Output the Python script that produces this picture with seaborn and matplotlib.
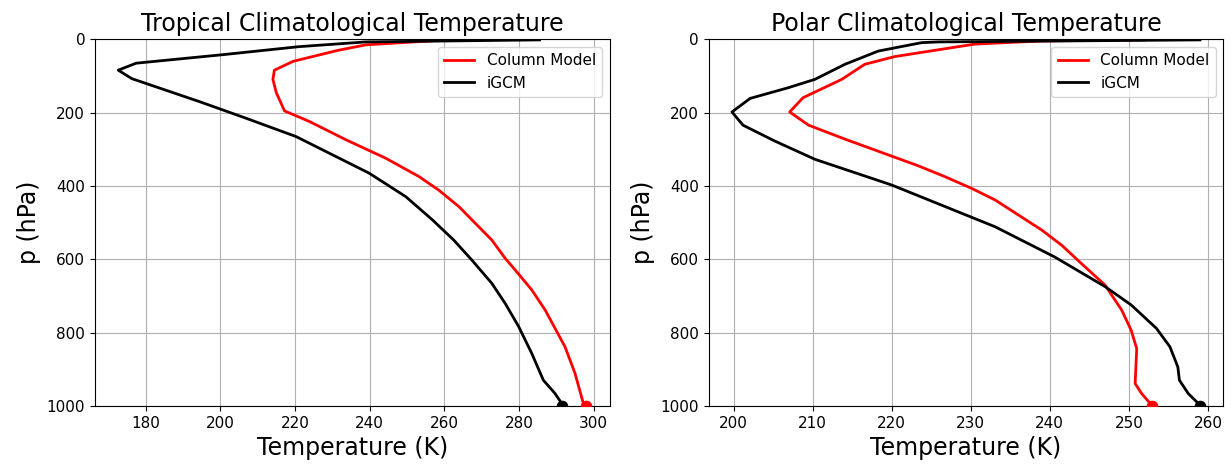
import numpy as np
import pandas as pd
import matplotlib
matplotlib.use("Agg")
import matplotlib.pyplot as plt
import seaborn as sns

# Tropical profiles, pressure in hPa, temperature in K
trop_igcm_p = [1.5, 7, 20, 42, 65, 84, 107, 170, 215, 265, 315, 365, 429, 492, 547, 602, 665,
               720, 783, 829, 856, 929, 965, 992]
trop_igcm_T = [285.5, 239, 221, 200.5, 177.5, 172.7, 176.3, 194.5, 206.9, 220.3, 230.1, 239.9,
               249.7, 256.8, 262.5, 267.4, 272.7, 276.3, 279.9, 282.1, 283.4, 286.5, 289.6, 291.4]
trop_col_p = [1.5, 4, 15, 30, 60, 84, 109, 145, 195, 224, 274, 324, 374, 411, 456, 547, 597,
              629, 683, 738, 838, 911, 992]
trop_col_T = [262, 256.7, 239, 231.5, 219.5, 214.5, 214.1, 215, 217.2, 223.9, 233.7, 244.3,
              253.2, 258.5, 263.9, 272.7, 276.3, 279, 283.4, 287, 292.3, 295, 297.2]
trop_surf_igcm = 291.6
trop_surf_col = 298.0

# Polar profiles
pol_igcm_p = [1.5, 7, 9, 32, 68, 109, 132, 161, 198, 234, 277, 327, 397, 511, 593, 674, 724,
              788, 838, 893, 929, 965, 997]
pol_igcm_T = [259, 226, 223.8, 218.3, 214.1, 210.3, 206.9, 202.1, 199.8, 201.2, 205.2, 210.3,
              220, 233.1, 240.6, 247, 250.3, 253.5, 255.2, 256.2, 256.4, 257.5, 259]
pol_col_p = [1.5, 4.4, 13, 47, 68, 109, 159, 198, 234, 272, 345, 374, 406, 438, 520, 561, 611,
             670, 738, 793, 843, 938, 965, 997]
pol_col_T = [252, 239, 230.5, 220.4, 216.6, 213.7, 208.8, 207.1, 209.5, 214.1, 223.4, 226.7,
             230.1, 233.1, 239, 241.5, 244, 247, 249.1, 250.3, 251, 250.8, 251.6, 252.9]
pol_surf_igcm = 259.0
pol_surf_col = 252.9

panels = [
    ("Tropical Climatological Temperature", trop_col_T, trop_col_p, trop_igcm_T, trop_igcm_p,
     trop_surf_col, trop_surf_igcm),
    ("Polar Climatological Temperature", pol_col_T, pol_col_p, pol_igcm_T, pol_igcm_p,
     pol_surf_col, pol_surf_igcm),
]

fig, axes = plt.subplots(1, 2, figsize=(12.32, 4.74), dpi=100)
fig.subplots_adjust(left=0.077, right=0.993, top=0.917, bottom=0.143, wspace=0.192)

for ax, (title, col_T, col_p, igcm_T, igcm_p, s_col, s_igcm) in zip(axes, panels):
    sns.lineplot(x=col_T, y=col_p, sort=False, estimator=None, color="red", lw=2,
                 label="Column Model", ax=ax)
    sns.lineplot(x=igcm_T, y=igcm_p, sort=False, estimator=None, color="black", lw=2,
                 label="iGCM", ax=ax)
    # surface temperature dots (half hidden below the axis)
    sns.scatterplot(x=[s_col], y=[1000], color="red", s=60, edgecolor="red", ax=ax, zorder=3)
    sns.scatterplot(x=[s_igcm], y=[1000], color="black", s=60, edgecolor="black", ax=ax, zorder=3)
    ax.set_ylim(1000, 0)
    ax.set_yticks([0, 200, 400, 600, 800, 1000])
    ax.grid(True)
    ax.set_title(title, fontsize=17)
    ax.set_xlabel("Temperature (K)", fontsize=17)
    ax.set_ylabel("p (hPa)", fontsize=17)
    ax.tick_params(labelsize=11)
    ax.legend(loc="upper right", fontsize=11)

plt.savefig("out.png", dpi=100)
